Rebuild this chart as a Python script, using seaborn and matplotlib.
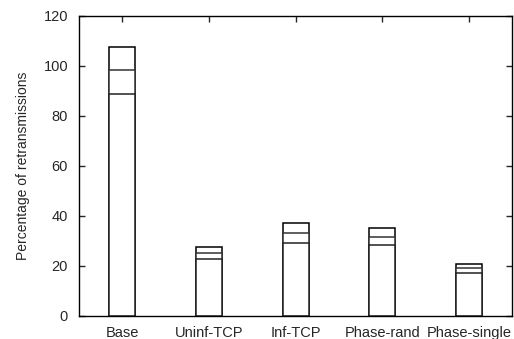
import numpy as np
import pandas as pd
import matplotlib
matplotlib.use('Agg')
import matplotlib.pyplot as plt
import seaborn as sns

# Data
schemes = ['Base', 'Uninf-TCP', 'Inf-TCP', 'Phase-rand', 'Phase-single']
high = [107.7, 27.7, 37.1, 35.1, 20.8]
mid = [98.4, 25.3, 33.1, 31.7, 19.1]
low = [88.9, 22.9, 29.3, 28.3, 17.3]

sns.set_style('ticks')
plt.rcParams['font.family'] = ['Liberation Sans', 'DejaVu Sans']

fig, ax = plt.subplots(figsize=(5.14, 3.39), dpi=100)

# overlapping bars, tallest first, so each level shows as a line
for vals, col in [(high, 'black'), (mid, '#333333'), (low, '#222222')]:
    df = pd.DataFrame({'scheme': schemes, 'value': vals})
    sns.barplot(data=df, x='scheme', y='value', order=schemes, color='white',
                edgecolor=col, linewidth=1.1, width=0.3, ax=ax)

ax.set_xlim(-0.5, 4.5)
ax.set_ylim(0, 120)
ax.set_yticks(np.arange(0, 121, 20))
ax.set_xlabel('')
ax.set_ylabel('Percentage of retransmissions', fontsize=10, labelpad=10)
ax.tick_params(direction='in', top=True, right=True, length=4, width=1, labelsize=10.5)
ax.tick_params(axis='y', pad=8)
ax.tick_params(axis='x', pad=7)
for s in ax.spines.values():
    s.set_linewidth(1.0)
    s.set_color('black')

fig.subplots_adjust(left=0.154, right=0.997, top=0.953, bottom=0.068)
fig.savefig('out.png', dpi=100)
